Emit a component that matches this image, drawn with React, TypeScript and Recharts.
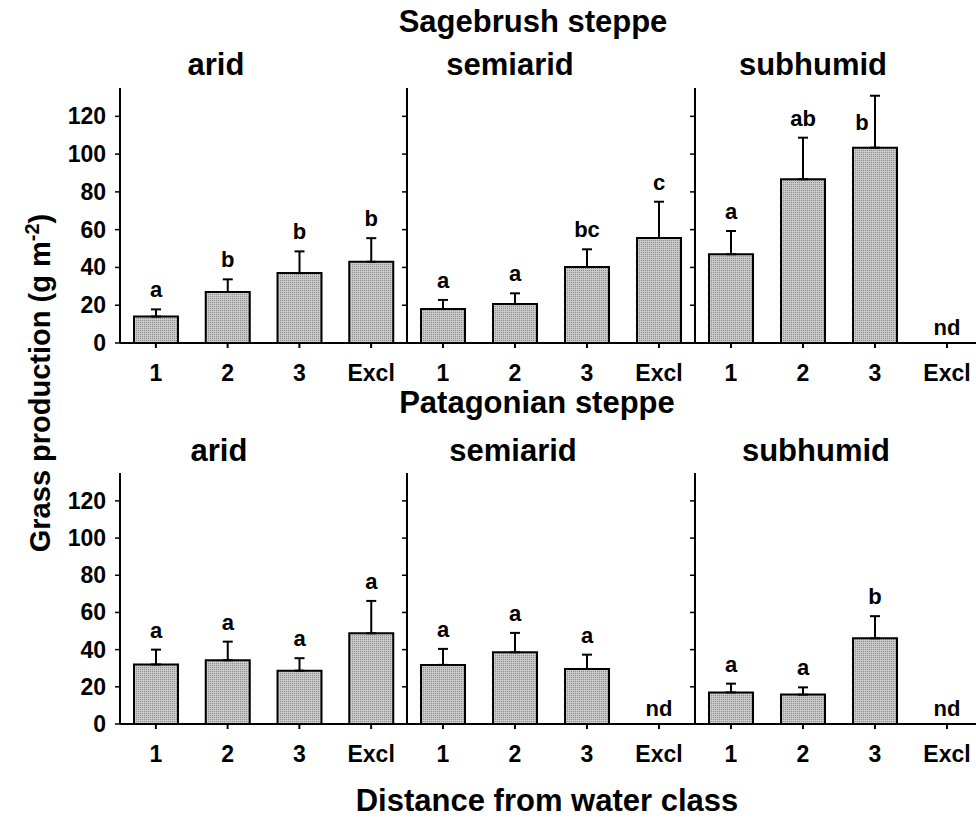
import React from 'react'
import { BarChart, Bar, XAxis, YAxis, ErrorBar, LabelList, ReferenceDot } from 'recharts'

// distance-from-water classes and shared y axis
const CLASSES = ['1', '2', '3', 'Excl']
const Y_TICKS = [0, 20, 40, 60, 80, 100, 120]
const Y_MAX = 135
const ZONES = ['arid', 'semiarid', 'subhumid']

// Sagebrush steppe: mean grass production, SE, letters (0 = no data)
const SAGE_ARID = [14, 27, 37, 43]
const SAGE_ARID_SE = [3.8, 6.7, 11.5, 12.5]
const SAGE_ARID_SIG = ['a', 'b', 'b', 'b']
const SAGE_SEMI = [18, 20.6, 40.2, 55.6]
const SAGE_SEMI_SE = [4.8, 5.7, 9.4, 19.2]
const SAGE_SEMI_SIG = ['a', 'a', 'bc', 'c']
const SAGE_SUB = [47, 86.7, 103.4, 0]
const SAGE_SUB_SE = [12.3, 22, 27.5, 0]
const SAGE_SUB_SIG = ['a', 'ab', 'b', 'nd']

// Patagonian steppe
const PATA_ARID = [32, 34.3, 28.7, 48.8]
const PATA_ARID_SE = [8, 10, 6.7, 17.4]
const PATA_ARID_SIG = ['a', 'a', 'a', 'a']
const PATA_SEMI = [31.8, 38.6, 29.6, 0]
const PATA_SEMI_SE = [8.6, 10.4, 7.7, 0]
const PATA_SEMI_SIG = ['a', 'a', 'a', 'nd']
const PATA_SUB = [17, 15.8, 46.1, 0]
const PATA_SUB_SE = [4.7, 3.9, 11.9, 0]
const PATA_SUB_SIG = ['a', 'a', 'b', 'nd']

const FONT = "'Liberation Sans', Arial, Helvetica, sans-serif"

type Row = { cls: string; value: number; se: number; err: number[]; sig: string }

function rowsOf(values: number[], se: number[], sig: string[]): Row[] {
  return CLASSES.map((cls, i) => ({ cls, value: values[i], se: se[i], err: [0, se[i]], sig: sig[i] }))
}

function Txt({ x, y, size, anchor = 'middle', children }: any) {
  return (
    <text x={x} y={y} textAnchor={anchor} fontFamily={FONT} fontWeight="bold" fontSize={size} fill="#000">
      {children}
    </text>
  )
}

function YTick({ x, y, payload }: any) {
  return <Txt x={x} y={y + 8} size={23} anchor="end">{payload.value}</Txt>
}

function XTick({ x, y, payload }: any) {
  return <Txt x={x} y={y + 33} size={23}>{payload.value}</Txt>
}

// letters sit above the error bar; if that would run into the frame, beside it
function makeSigLabel(rows: Row[]) {
  return (props: any) => {
    const vb = props.viewBox ?? props
    const row = rows[props.index]
    if (!row || vb == null || row.value === 0) return null
    const cx = vb.x + vb.width / 2
    const ppu = vb.height / row.value
    const errTop = vb.y - row.se * ppu
    const frameTop = vb.y + vb.height - Y_MAX * ppu
    let base = errTop - 12
    let lx = cx
    if (base - 17 < frameTop) {
      base = errTop + 34
      lx = cx - 13
    }
    return <Txt x={lx} y={base} size={22}>{row.sig}</Txt>
  }
}

// "nd" marker sitting on the baseline of a class without data
function NdLabel({ viewBox, text }: any) {
  if (!viewBox) return null
  return <Txt x={viewBox.x + viewBox.width / 2} y={viewBox.y + viewBox.height / 2 - 8} size={22}>{text}</Txt>
}

type PanelProps = { rows: Row[]; left: number; top: number; width: number; plotH: number; first: boolean }

function Panel({ rows, left, top, width, plotH, first }: PanelProps) {
  const yw = first ? 120 : 10
  return (
    <div style={{ position: 'absolute', left: left - yw, top: top - 10 }}>
      <BarChart
        width={yw + width}
        height={10 + plotH + 50}
        data={rows}
        margin={{ top: 10, right: 0, left: 0, bottom: 0 }}
        barSize={44}
      >
        <XAxis
          dataKey="cls"
          height={50}
          stroke="#000"
          axisLine={{ stroke: '#000', strokeWidth: 2 }}
          tickLine={{ stroke: '#000', strokeWidth: 2 }}
          tickSize={5}
          tickMargin={0}
          tick={XTick}
          interval={0}
        />
        <XAxis xAxisId="top" dataKey="cls" orientation="top" height={0} tick={false} tickLine={false} axisLine={{ stroke: '#000', strokeWidth: 2 }} />
        <YAxis
          type="number"
          domain={[0, Y_MAX]}
          ticks={Y_TICKS}
          allowDataOverflow
          width={yw}
          axisLine={{ stroke: '#000', strokeWidth: 2 }}
          tickLine={{ stroke: '#000', strokeWidth: 1.5 }}
          tickSize={5}
          tickMargin={9}
          tick={first ? YTick : () => <g />}
        />
        <Bar dataKey="value" fill="url(#halftone)" stroke="#000" strokeWidth={2} isAnimationActive={false}>
          <ErrorBar dataKey="err" width={5} stroke="#000" strokeWidth={2} direction="y" isAnimationActive={false} />
          <LabelList dataKey="sig" content={makeSigLabel(rows)} />
        </Bar>
        {rows
          .filter((r) => r.value === 0)
          .map((r) => (
            <ReferenceDot
              key={r.cls}
              x={r.cls}
              y={0}
              r={1}
              fill="none"
              stroke="none"
              label={<NdLabel text={r.sig} />}
            />
          ))}
      </BarChart>
    </div>
  )
}

const PANEL_LEFT = [120, 407, 695]
const PANEL_W = [287, 288, 288]

export default function App() {
  const sage = [
    rowsOf(SAGE_ARID, SAGE_ARID_SE, SAGE_ARID_SIG),
    rowsOf(SAGE_SEMI, SAGE_SEMI_SE, SAGE_SEMI_SIG),
    rowsOf(SAGE_SUB, SAGE_SUB_SE, SAGE_SUB_SIG),
  ]
  const pata = [
    rowsOf(PATA_ARID, PATA_ARID_SE, PATA_ARID_SIG),
    rowsOf(PATA_SEMI, PATA_SEMI_SE, PATA_SEMI_SIG),
    rowsOf(PATA_SUB, PATA_SUB_SE, PATA_SUB_SIG),
  ]
  const zoneX = [216, 510, 813]

  return (
    <div style={{ position: 'absolute', left: 0, top: 0, width: 976, height: 818, overflow: 'hidden', background: '#fff' }}>
      <svg width={0} height={0} style={{ position: 'absolute' }}>
        <defs>
          <pattern id="halftone" width={2} height={2} patternUnits="userSpaceOnUse">
            <rect width={2} height={2} fill="#cacaca" />
            <rect width={1} height={1} fill="#8a8a8a" />
          </pattern>
        </defs>
      </svg>

      {sage.map((rows, i) => (
        <Panel key={`s${i}`} rows={rows} left={PANEL_LEFT[i]} top={88} width={PANEL_W[i]} plotH={255} first={i === 0} />
      ))}
      {pata.map((rows, i) => (
        <Panel key={`p${i}`} rows={rows} left={PANEL_LEFT[i]} top={473} width={PANEL_W[i]} plotH={251} first={i === 0} />
      ))}

      <svg width={976} height={818} style={{ position: 'absolute', left: 0, top: 0, pointerEvents: 'none' }}>
        <Txt x={533} y={32} size={31}>Sagebrush steppe</Txt>
        {ZONES.map((z, i) => (
          <Txt key={`zt${z}`} x={zoneX[i]} y={75} size={31}>{z}</Txt>
        ))}
        <Txt x={537} y={413} size={31}>Patagonian steppe</Txt>
        {ZONES.map((z, i) => (
          <Txt key={`zb${z}`} x={zoneX[i] + 3} y={461} size={31}>{z}</Txt>
        ))}
        <text
          transform="translate(50,383) rotate(-90)"
          textAnchor="middle"
          fontFamily={FONT}
          fontWeight="bold"
          fontSize={29}
          fill="#000"
        >
          Grass production (g m<tspan dy={-11} fontSize={20}>-2</tspan><tspan dy={11}>)</tspan>
        </text>
        <Txt x={547} y={811} size={31}>Distance from water class</Txt>
      </svg>
    </div>
  )
}
